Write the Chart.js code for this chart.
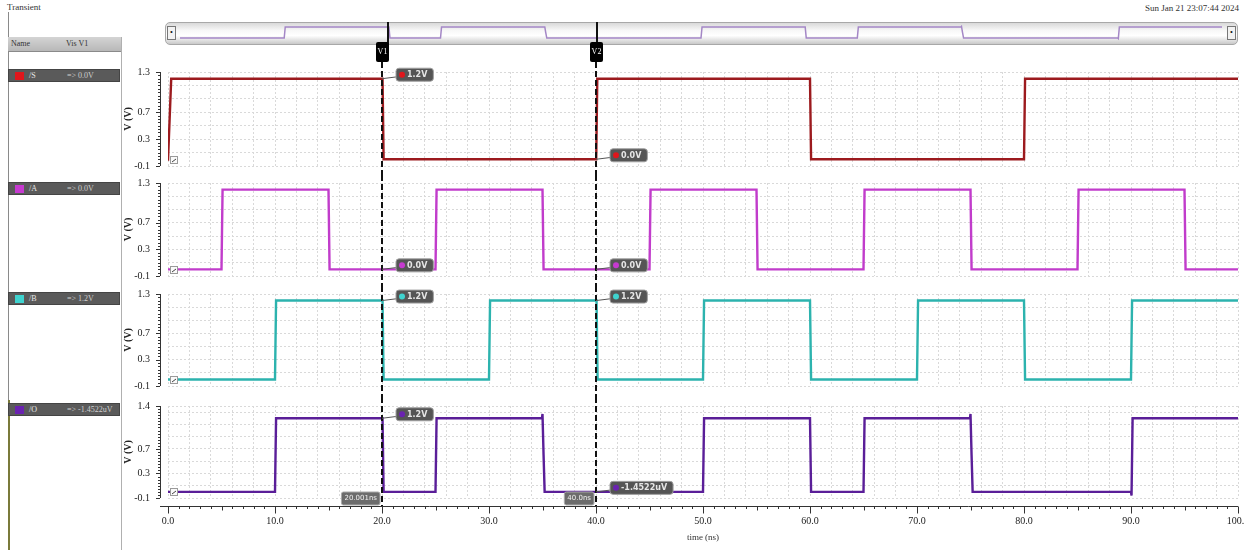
<!DOCTYPE html>
<html>
<head>
<meta charset="utf-8">
<script src="https://cdn.jsdelivr.net/npm/chart.js@4.4.1/dist/chart.umd.min.js"></script>
<style>
  html, body { margin: 0; padding: 0; background: #fff; }
  body { position: relative; width: 1244px; height: 550px; overflow: hidden; font-family: "Liberation Serif", serif; color: #222; }
  .abs { position: absolute; }
  canvas.panel { position: absolute; left: 120px; z-index: 3; }
  #titleTxt { left: 7px; top: 2px; font-size: 9px; color: #333; }
  #dateTxt { right: 5px; top: 3px; font-size: 9px; color: #333; }
  #leftLine { left: 8px; top: 12px; width: 1px; height: 538px; background: #8a8a8a; }
  #leftLineLow { left: 8px; top: 400px; width: 2px; height: 150px; background: #7a7a3a; }
  #rightLine { left: 121px; top: 37px; width: 1px; height: 513px; background: #b0b0b0; }
  #hdr { left: 8px; top: 37px; width: 113px; height: 14px; background: linear-gradient(#d4d4d4, #b8b8b8); border-bottom: 1px solid #8a8a8a; font-size: 8px; line-height: 14px; color: #333; }
  #hdr span { position: absolute; }
  .row { position: absolute; left: 8px; width: 112px; height: 13px; background: #5a5a5a; border: 1px solid #444; box-sizing: border-box; font-size: 8px; line-height: 11px; color: #e8e8e8; }
  .row .sw { position: absolute; left: 6px; top: 2px; width: 9px; height: 8px; }
  .row .nm { position: absolute; left: 20px; top: 0; }
  .row .vl { position: absolute; left: 58px; top: 0; color: #cfcfcf; }
  #ovBar { left: 165px; top: 22px; width: 1073px; height: 23px; border: 1px solid #a8a8a8; border-radius: 5px; box-sizing: border-box;
           background: linear-gradient(#d9d9d9, #f7f7f7 35%, #ffffff 60%, #c9c9c9); z-index: 1; }
  .ovBtn { top: 26px; width: 9px; height: 14px; border: 1px solid #777; background: #f2f2f2; box-sizing: border-box; z-index: 2; font-size: 8px; line-height: 12px; text-align: center; color: #111; }
  #ovCanvas { position: absolute; left: 180px; top: 22px; z-index: 2; }
</style>
</head>
<body>
<div id="titleTxt" class="abs">Transient</div>
<div id="dateTxt" class="abs">Sun Jan 21 23:07:44 2024</div>
<div id="leftLine" class="abs"></div>
<div id="leftLineLow" class="abs"></div>
<div id="rightLine" class="abs"></div>
<div id="hdr" class="abs"><span style="left:3px">Name</span><span style="left:58px">Vis V1</span></div>
<div id="rows"></div>
<div id="ovBar" class="abs"></div>
<div class="abs ovBtn" style="left:167px">&#8226;</div>
<div class="abs ovBtn" style="left:1227px">&#8226;</div>
<canvas id="ovCanvas" width="1042" height="24"></canvas>

<script>
// ---- Waveform data: time (ns) and voltage (V) at each corner of the traces ----
const timeS = [0, 0.3, 20.05, 20.15, 40.02, 40.12, 60.0, 60.1, 80.0, 80.1, 100];
const voltS = [-0.02, 1.2, 1.2, 0.0, 0.0, 1.2, 1.2, 0.0, 0.0, 1.2, 1.2];

const timeA = [0, 5.0, 5.1, 15.0, 15.1, 25.0, 25.1, 35.0, 35.1, 45.0, 45.1, 55.0, 55.1, 65.0, 65.1, 75.0, 75.1, 85.0, 85.1, 95.0, 95.1, 100];
const voltA = [0, 0, 1.2, 1.2, 0, 0, 1.2, 1.2, 0, 0, 1.2, 1.2, 0, 0, 1.2, 1.2, 0, 0, 1.2, 1.2, 0, 0];

const timeB = [0, 10.0, 10.1, 20.05, 20.15, 30.0, 30.1, 40.05, 40.15, 50.0, 50.1, 60.0, 60.1, 70.0, 70.1, 80.0, 80.1, 90.0, 90.1, 100];
const voltB = [0, 0, 1.2, 1.2, 0, 0, 1.2, 1.2, 0, 0, 1.2, 1.2, 0, 0, 1.2, 1.2, 0, 0, 1.2, 1.2];

const timeO = [0, 10.0, 10.1, 20.05, 20.15, 25.0, 25.1, 34.95, 35.0, 35.1, 35.2, 50.0, 50.1, 60.0, 60.1, 65.0, 65.1, 74.95, 75.0, 75.1, 75.2, 90.0, 90.05, 90.15, 100];
const voltO = [-1.4522e-6, -1.4522e-6, 1.2, 1.2, -1.4522e-6, -1.4522e-6, 1.2, 1.2, 1.27, 0.6, -1.4522e-6, -1.4522e-6, 1.2, 1.2, -1.4522e-6, -1.4522e-6, 1.2, 1.2, 1.27, 0.6, -1.4522e-6, -1.4522e-6, -0.06, 1.2, 1.2];

// ---- Cursors and the values read at them ----
const cursorTimes = [20.001, 40.0];
const cursorNames = ['V1', 'V2'];
const cursorVoltsS = [1.2, 0.0];
const cursorVoltsA = [0.0, 0.0];
const cursorVoltsB = [1.2, 1.2];
const cursorVoltsO = [1.2, -1.4522e-6];

// ---- Axis ticks ----
const xLabelTicks = [0, 10, 20, 30, 40, 50, 60, 70, 80, 90, 100];
const yLabelsStd = [-0.1, 0.3, 0.7, 1.3];
const yLabelsO = [-0.1, 0.3, 0.7, 1.4];

const signals = [
  { name: '/S', times: timeS, volts: voltS, marks: cursorVoltsS, color: '#9c1a1e', dot: '#e0161c', yMin: -0.1, yMax: 1.3, yLabels: yLabelsStd },
  { name: '/A', times: timeA, volts: voltA, marks: cursorVoltsA, color: '#c13ccb', dot: '#c63ad0', yMin: -0.1, yMax: 1.3, yLabels: yLabelsStd },
  { name: '/B', times: timeB, volts: voltB, marks: cursorVoltsB, color: '#2cb3ae', dot: '#3fd3cf', yMin: -0.1, yMax: 1.3, yLabels: yLabelsStd },
  { name: '/O', times: timeO, volts: voltO, marks: cursorVoltsO, color: '#5a1e98', dot: '#6a22b0', yMin: -0.1, yMax: 1.4, yLabels: yLabelsO }
];

// Page placement of each strip (canvas box and plot-area padding)
const stripLayout = [
  { top: 20,  height: 155, padTop: 52, padBottom: 9,  xHeight: 0,  rowTop: 69 },
  { top: 175, height: 111, padTop: 8,  padBottom: 10, xHeight: 0,  rowTop: 182 },
  { top: 286, height: 111, padTop: 8,  padBottom: 11, xHeight: 0,  rowTop: 292 },
  { top: 397, height: 153, padTop: 9,  padBottom: 0,  xHeight: 52, rowTop: 403 }
];

const points = (ts, vs) => ts.map((t, i) => ({ x: t, y: vs[i] }));

function fmtVolt(v) {
  if (v !== 0 && Math.abs(v) < 1e-3) return (v * 1e6).toFixed(4) + 'uV';
  return v.toFixed(1) + 'V';
}
function fmtTime(t) {
  return (Number.isInteger(t) ? t.toFixed(1) : String(t)) + 'ns';
}
function roundRect(ctx, x, y, w, h, r) {
  ctx.beginPath();
  ctx.moveTo(x + r, y);
  ctx.lineTo(x + w - r, y); ctx.quadraticCurveTo(x + w, y, x + w, y + r);
  ctx.lineTo(x + w, y + h - r); ctx.quadraticCurveTo(x + w, y + h, x + w - r, y + h);
  ctx.lineTo(x + r, y + h); ctx.quadraticCurveTo(x, y + h, x, y + h - r);
  ctx.lineTo(x, y + r); ctx.quadraticCurveTo(x, y, x + r, y);
  ctx.closePath();
}

// Signal list on the left
const rowsEl = document.getElementById('rows');
signals.forEach((s, i) => {
  const r = document.createElement('div');
  r.className = 'row';
  r.style.top = stripLayout[i].rowTop + 'px';
  r.innerHTML = '<div class="sw" style="background:' + s.dot + '"></div><span class="nm">' + s.name +
    '</span><span class="vl">=&gt; ' + fmtVolt(s.marks[1]) + '</span>';
  rowsEl.appendChild(r);
});

// Rulers, cursors and value flags drawn over each strip
const stripDecor = {
  id: 'stripDecor',
  afterDatasetsDraw(chart, args, opts) {
    const ctx = chart.ctx;
    const xs = chart.scales.x, ys = chart.scales.y;
    const area = chart.chartArea;
    const sig = opts.signal;
    ctx.save();

    // vertical ruler beside the plot
    const rx = area.left - 8;
    ctx.strokeStyle = '#333'; ctx.lineWidth = 1;
    ctx.beginPath(); ctx.moveTo(rx + 0.5, area.top); ctx.lineTo(rx + 0.5, area.bottom); ctx.stroke();
    for (let k = 0; ; k++) {
      const v = +(sig.yMin + 0.05 * k).toFixed(3);
      if (v > sig.yMax + 1e-9) break;
      const py = Math.round(ys.getPixelForValue(v)) + 0.5;
      const len = sig.yLabels.some(l => Math.abs(l - v) < 1e-6) ? 4 : 2;
      ctx.beginPath(); ctx.moveTo(rx - len, py); ctx.lineTo(rx, py); ctx.stroke();
    }

    // start-of-trace box
    ctx.fillStyle = '#fafafa'; ctx.strokeStyle = '#9a9a9a';
    ctx.fillRect(area.left + 2.5, area.bottom - 9.5, 7, 7);
    ctx.strokeRect(area.left + 2.5, area.bottom - 9.5, 7, 7);
    ctx.strokeStyle = '#444';
    ctx.beginPath(); ctx.moveTo(area.left + 4, area.bottom - 4); ctx.lineTo(area.left + 8, area.bottom - 7); ctx.stroke();

    // time ruler under the last strip
    if (opts.timeRuler) {
      const ry = area.bottom + 8.5;
      ctx.strokeStyle = '#333';
      ctx.beginPath(); ctx.moveTo(area.left - 8, ry); ctx.lineTo(area.right, ry); ctx.stroke();
      for (let t = 0; t <= 100; t++) {
        const px = Math.round(xs.getPixelForValue(t)) + 0.5;
        const len = t % 10 === 0 ? 7 : (t % 5 === 0 ? 4 : 2.5);
        ctx.beginPath(); ctx.moveTo(px, ry); ctx.lineTo(px, ry + len); ctx.stroke();
      }
    }

    // dashed cursor lines
    const lineTop = opts.cursorTop;
    const lineBottom = opts.timeRuler ? area.bottom + 8 : chart.height;
    ctx.strokeStyle = '#111'; ctx.lineWidth = 2; ctx.setLineDash([6, 3]);
    cursorTimes.forEach(t => {
      const px = Math.round(xs.getPixelForValue(t));
      ctx.beginPath(); ctx.moveTo(px, lineTop); ctx.lineTo(px, lineBottom); ctx.stroke();
    });
    ctx.setLineDash([]);

    // cursor name tags above the first strip
    if (opts.cursorTags) {
      cursorTimes.forEach((t, i) => {
        const px = Math.round(xs.getPixelForValue(t));
        ctx.fillStyle = '#000';
        roundRect(ctx, px - 6, 22, 13, 20, 2); ctx.fill();
        ctx.fillStyle = '#fff'; ctx.font = '8px "Liberation Serif"';
        ctx.textAlign = 'center'; ctx.textBaseline = 'middle';
        ctx.fillText(cursorNames[i], px + 0.5, 32);
      });
    }

    // value flags at the cursor crossings
    ctx.font = 'bold 8px "DejaVu Sans"';
    ctx.textAlign = 'left'; ctx.textBaseline = 'middle';
    cursorTimes.forEach((t, i) => {
      const v = sig.marks[i];
      const px = xs.getPixelForValue(t), py = ys.getPixelForValue(v);
      const txt = fmtVolt(v);
      const w = ctx.measureText(txt).width + 17;
      const bx = px + 14, cy = py - 4;
      ctx.strokeStyle = '#555'; ctx.lineWidth = 1;
      ctx.beginPath(); ctx.moveTo(px, py); ctx.lineTo(bx + 2, cy + 2); ctx.stroke();
      ctx.fillStyle = '#555'; ctx.strokeStyle = '#a0a0a0';
      roundRect(ctx, bx, cy - 6.5, w, 13, 3); ctx.fill(); ctx.stroke();
      ctx.fillStyle = sig.dot;
      ctx.beginPath(); ctx.arc(bx + 6, cy, 3, 0, Math.PI * 2); ctx.fill();
      ctx.fillStyle = '#e6e6e6';
      ctx.fillText(txt, bx + 11, cy + 0.5);
    });

    // cursor time tags on the time ruler
    if (opts.timeRuler) {
      ctx.font = '7px "DejaVu Sans"';
      cursorTimes.forEach(t => {
        const px = Math.round(xs.getPixelForValue(t));
        const txt = fmtTime(t);
        const w = ctx.measureText(txt).width + 6;
        ctx.fillStyle = '#6c6c6c'; ctx.strokeStyle = '#aaa';
        roundRect(ctx, px - 2 - w, area.bottom - 6, w, 13, 2); ctx.fill(); ctx.stroke();
        ctx.fillStyle = '#f2f2f2'; ctx.textAlign = 'left';
        ctx.fillText(txt, px - w + 1, area.bottom + 0.5);
      });
    }
    ctx.restore();
  }
};

const gridColor = '#d9d9d9';
const clear = 'rgba(0,0,0,0)';

signals.forEach((sig, i) => {
  const L = stripLayout[i];
  const cv = document.createElement('canvas');
  cv.className = 'panel';
  cv.width = 1170; cv.height = L.height;
  cv.style.top = L.top + 'px';
  document.body.appendChild(cv);

  const gridVals = [];
  for (let k = 0; ; k++) {
    const v = +(sig.yMin + 0.2 * k).toFixed(2);
    if (v > sig.yMax + 1e-9) break;
    gridVals.push(v);
  }
  if (!gridVals.includes(sig.yMax)) gridVals.push(sig.yMax);
  const last = i === signals.length - 1;

  new Chart(cv, {
    type: 'line',
    data: {
      datasets: [{
        data: points(sig.times, sig.volts),
        borderColor: sig.color, borderWidth: 2.4, pointRadius: 0, tension: 0,
        borderJoinStyle: 'miter', fill: false
      }]
    },
    options: {
      responsive: false, animation: false, events: [],
      devicePixelRatio: 1,
      layout: { padding: { top: L.padTop, bottom: L.padBottom, left: 0, right: 52 } },
      plugins: {
        legend: { display: false }, tooltip: { enabled: false },
        stripDecor: { signal: sig, timeRuler: last, cursorTags: i === 0, cursorTop: i === 0 ? 42 : 0 }
      },
      scales: {
        x: {
          type: 'linear', min: 0, max: 100,
          afterBuildTicks: s => { const t = []; for (let v = 0; v <= 100; v += 2) t.push({ value: v }); s.ticks = t; },
          afterFit: s => { s.height = L.xHeight; },
          grid: { color: gridColor, lineWidth: 1, drawTicks: last, tickLength: 17, tickColor: clear },
          border: { display: false, dash: [2, 2] },
          ticks: {
            display: last, autoSkip: false, maxRotation: 0, padding: 0,
            color: '#222', font: { family: 'Liberation Serif', size: 10 },
            callback: v => xLabelTicks.includes(v) ? v.toFixed(1) : ''
          },
          title: {
            display: last, text: 'time (ns)', color: '#333',
            font: { family: 'Liberation Serif', size: 9 }, padding: { top: 0, bottom: 7 }
          }
        },
        y: {
          type: 'linear', min: sig.yMin, max: sig.yMax,
          afterBuildTicks: s => { s.ticks = gridVals.map(v => ({ value: v })); },
          afterFit: s => { s.width = 48; },
          grid: { color: gridColor, lineWidth: 1, drawTicks: true, tickLength: 18, tickColor: clear },
          border: { display: false, dash: [2, 2] },
          ticks: {
            padding: 0, autoSkip: false, color: '#222', font: { family: 'Liberation Serif', size: 10 },
            callback: v => sig.yLabels.some(l => Math.abs(l - v) < 1e-6) ? v.toFixed(1) : ''
          },
          title: {
            display: true, text: 'V (V)', color: '#222',
            font: { family: 'Liberation Serif', size: 10, weight: 'bold' }, padding: { top: 2, bottom: 0 }
          }
        }
      }
    },
    plugins: [stripDecor]
  });
});

// Overview trace of /O across the whole run, with the cursor marks
const overviewCursors = {
  id: 'overviewCursors',
  afterDatasetsDraw(chart) {
    const ctx = chart.ctx, xs = chart.scales.x;
    ctx.save();
    ctx.strokeStyle = '#111'; ctx.lineWidth = 2;
    cursorTimes.forEach(t => {
      const px = Math.round(xs.getPixelForValue(t));
      ctx.beginPath(); ctx.moveTo(px, 0); ctx.lineTo(px, chart.height); ctx.stroke();
    });
    ctx.restore();
  }
};
new Chart(document.getElementById('ovCanvas'), {
  type: 'line',
  data: { datasets: [{ data: points(timeO, voltO), borderColor: '#a487c6', borderWidth: 1.5, pointRadius: 0, tension: 0 }] },
  options: {
    responsive: false, animation: false, events: [], devicePixelRatio: 1,
    layout: { padding: 0 },
    plugins: { legend: { display: false }, tooltip: { enabled: false } },
    scales: {
      x: { type: 'linear', min: 0, max: 100, display: false },
      y: { min: -0.87, max: 1.75, display: false }
    }
  },
  plugins: [overviewCursors]
});
</script>
</body>
</html>
